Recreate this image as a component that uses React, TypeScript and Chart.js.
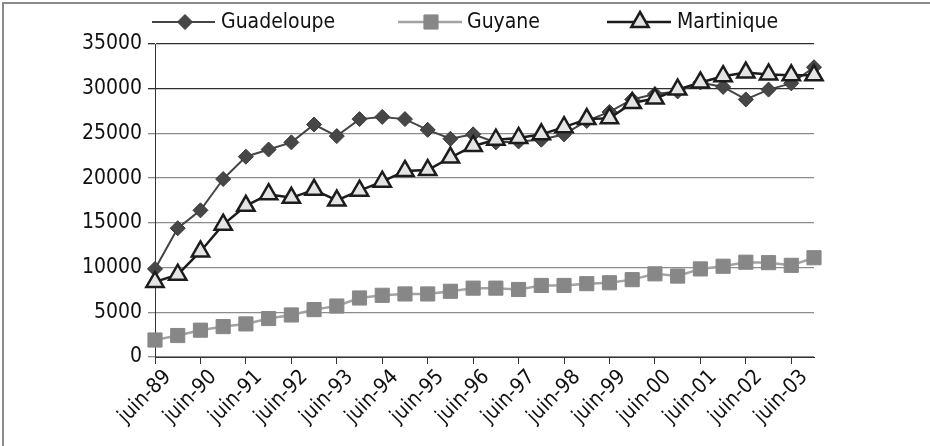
import React, { useEffect, useRef } from 'react';
import { Chart, registerables } from 'chart.js';

Chart.register(...registerables);

const categories = [
  'juin-89', 'déc-89', 'juin-90', 'déc-90', 'juin-91', 'déc-91', 'juin-92', 'déc-92',
  'juin-93', 'déc-93', 'juin-94', 'déc-94', 'juin-95', 'déc-95', 'juin-96', 'déc-96',
  'juin-97', 'déc-97', 'juin-98', 'déc-98', 'juin-99', 'déc-99', 'juin-00', 'déc-00',
  'juin-01', 'déc-01', 'juin-02', 'déc-02', 'juin-03', 'déc-03',
];

const guadeloupe = [
  9850, 14400, 16400, 19900, 22400, 23200, 24000, 26000, 24700, 26600,
  26850, 26600, 25400, 24400, 24900, 24000, 24100, 24300, 24900, 26400,
  27400, 28800, 29400, 29700, 30700, 30200, 28800, 29900, 30600, 32400,
];

const guyane = [
  1900, 2400, 3000, 3400, 3700, 4300, 4700, 5300, 5700, 6600,
  6900, 7050, 7050, 7350, 7700, 7700, 7550, 8000, 8000, 8200,
  8300, 8650, 9300, 9050, 9850, 10150, 10600, 10550, 10250, 11100,
];

const martinique = [
  8400, 9200, 11800, 14800, 16900, 18200, 17800, 18700, 17500, 18600,
  19600, 20800, 20900, 22300, 23600, 24300, 24500, 24900, 25700, 26600,
  26700, 28400, 28900, 29900, 30700, 31400, 31800, 31600, 31500, 31500,
];

const seriesNames = ['Guadeloupe', 'Guyane', 'Martinique'];
const yTicks = [0, 5000, 10000, 15000, 20000, 25000, 30000, 35000];

const FONT = "'Liberation Sans Narrow', 'Arial Narrow', 'DejaVu Sans Condensed', sans-serif";

function drawMarker(ctx: CanvasRenderingContext2D, style: string, x: number, y: number, r: number) {
  ctx.beginPath();
  if (style === 'rectRot') {
    ctx.moveTo(x - r, y);
    ctx.lineTo(x, y - r);
    ctx.lineTo(x + r, y);
    ctx.lineTo(x, y + r);
    ctx.closePath();
  } else if (style === 'rect') {
    const s = Math.SQRT1_2 * r;
    ctx.rect(x - s, y - s, 2 * s, 2 * s);
  } else {
    const w = r * Math.sin((2 * Math.PI) / 3);
    ctx.moveTo(x, y - r);
    ctx.lineTo(x + w, y + r / 2);
    ctx.lineTo(x - w, y + r / 2);
    ctx.closePath();
  }
  ctx.fill();
  ctx.stroke();
}

const framePlugin = {
  id: 'frameAndLegend',
  beforeDraw(chart: any) {
    const ctx = chart.ctx as CanvasRenderingContext2D;
    ctx.save();
    ctx.fillStyle = '#ffffff';
    ctx.fillRect(0, 0, chart.width, chart.height);
    ctx.strokeStyle = '#8a8a8a';
    ctx.lineWidth = 2;
    ctx.beginPath();
    ctx.moveTo(3, chart.height);
    ctx.lineTo(3, 3);
    ctx.lineTo(chart.width, 3);
    ctx.stroke();
    ctx.restore();
  },
  afterDraw(chart: any) {
    const ctx = chart.ctx as CanvasRenderingContext2D;
    const items = [
      { x1: 152, x2: 215, mx: 185, tx: 221 },
      { x1: 398, x2: 462, mx: 431, tx: 467 },
      { x1: 607, x2: 671, mx: 640, tx: 677 },
    ];
    const y = 22;
    ctx.save();
    chart.data.datasets.forEach((ds: any, i: number) => {
      const it = items[i];
      ctx.strokeStyle = ds.borderColor;
      ctx.lineWidth = ds.borderWidth;
      ctx.beginPath();
      ctx.moveTo(it.x1, y);
      ctx.lineTo(it.x2, y);
      ctx.stroke();
      ctx.fillStyle = ds.pointBackgroundColor;
      ctx.strokeStyle = ds.pointBorderColor;
      ctx.lineWidth = ds.pointBorderWidth;
      drawMarker(ctx, ds.pointStyle, it.mx, y, ds.pointRadius);
      ctx.fillStyle = '#111111';
      ctx.font = `21px ${FONT}`;
      ctx.textAlign = 'left';
      ctx.textBaseline = 'middle';
      ctx.fillText(ds.label, it.tx, y + 1);
    });
    ctx.restore();
  },
};

export default function App() {
  const ref = useRef<HTMLCanvasElement | null>(null);

  useEffect(() => {
    document.body.style.margin = '0';
    const canvas = ref.current;
    if (!canvas) return;
    const chart = new Chart(canvas, {
      type: 'line',
      data: {
        labels: categories,
        datasets: [
          {
            label: seriesNames[0],
            data: guadeloupe,
            borderColor: '#454545',
            borderWidth: 2,
            pointStyle: 'rectRot',
            pointRadius: 7.5,
            pointBackgroundColor: '#474747',
            pointBorderColor: '#3a3a3a',
            pointBorderWidth: 1,
            order: 2,
          },
          {
            label: seriesNames[1],
            data: guyane,
            borderColor: '#a3a3a3',
            borderWidth: 2.5,
            pointStyle: 'rect',
            pointRadius: 10,
            pointBackgroundColor: '#878787',
            pointBorderColor: '#878787',
            pointBorderWidth: 1,
            order: 1,
          },
          {
            label: seriesNames[2],
            data: martinique,
            borderColor: '#1c1c1c',
            borderWidth: 2.5,
            pointStyle: 'triangle',
            pointRadius: 10,
            pointBackgroundColor: '#e4e4e4',
            pointBorderColor: '#1c1c1c',
            pointBorderWidth: 2.5,
            order: 0,
          },
        ] as any,
      },
      options: {
        responsive: false,
        animation: false,
        layout: { padding: { top: 44, right: 116, bottom: 0, left: 0 } },
        plugins: {
          legend: { display: false },
          tooltip: { enabled: false },
        },
        elements: { line: { tension: 0 } },
        scales: {
          x: {
            type: 'category',
            offset: false,
            border: { display: true, color: '#333333', width: 1 },
            grid: {
              drawOnChartArea: false,
              drawTicks: true,
              tickLength: 7,
              color: (c: any) => (c.index % 2 === 0 ? '#333333' : 'rgba(0,0,0,0)'),
            },
            ticks: {
              autoSkip: false,
              maxRotation: 45,
              minRotation: 45,
              padding: 1,
              labelOffset: 13,
              color: '#111111',
              font: { family: FONT, size: 21 },
              callback: (_v: any, i: number) => (i % 2 === 0 ? categories[i] : ''),
            },
            afterFit: (s: any) => {
              s.height = 89;
            },
          },
          y: {
            min: 0,
            max: 35000,
            border: { display: true, color: '#333333', width: 1 },
            grid: {
              drawTicks: true,
              tickLength: 7,
              color: (c: any) => (c.tick && c.tick.value >= 30000 ? '#2e2e2e' : '#8c8c8c'),
              lineWidth: 1.3,
            },
            afterBuildTicks: (s: any) => {
              s.ticks = yTicks.map((v) => ({ value: v }));
            },
            ticks: {
              padding: 6,
              color: '#111111',
              font: { family: FONT, size: 21 },
              callback: (v: any) => String(v),
            },
            afterFit: (s: any) => {
              s.width = 155;
            },
          },
        },
      } as any,
      plugins: [framePlugin],
    });
    return () => chart.destroy();
  }, []);

  return (
    <div style={{ width: 930, height: 446 }}>
      <canvas ref={ref} width={930} height={446} style={{ display: 'block', width: 930, height: 446 }} />
    </div>
  );
}
